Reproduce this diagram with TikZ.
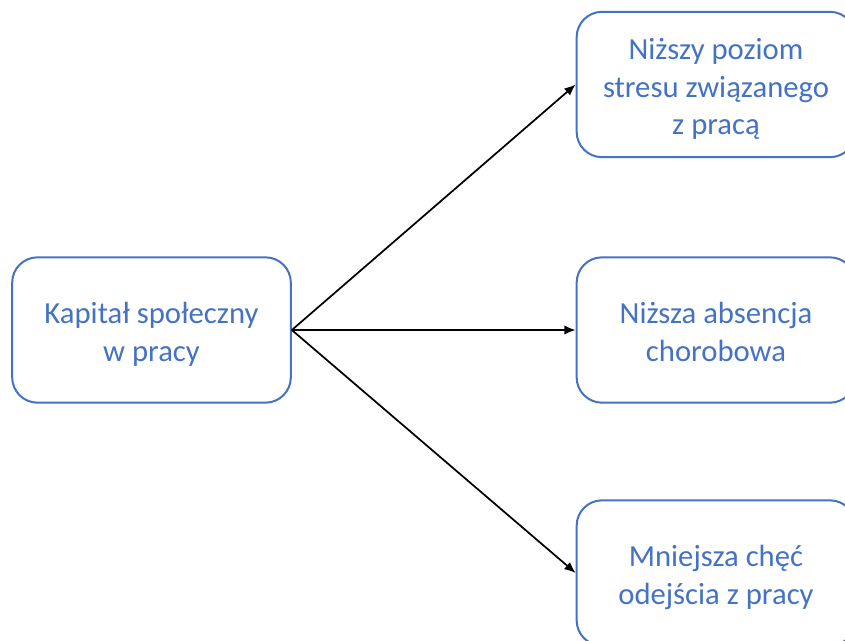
\documentclass[tikz,border=0pt]{standalone}
\usepackage{fontspec}
\setmainfont{Carlito}
\usetikzlibrary{arrows.meta}
\definecolor{boxblue}{HTML}{4472C4}
\newcommand{\boxtext}[1]{\raisebox{-10pt}[0pt][0pt]{\begin{tabular}{@{}c@{}}#1\end{tabular}}}
\tikzset{
  box/.style={draw=boxblue, line width=1.5pt, rounded corners=19pt, minimum width=209pt, minimum height=109pt,
    text=boxblue, align=center, font=\fontsize{23pt}{28pt}\selectfont, inner sep=0pt, fill=white},
  conn/.style={draw=black, line width=1.3pt, -{Latex[length=8.5pt,width=7pt]}}
}
\begin{document}
\begin{tikzpicture}[x=0.75pt,y=-0.75pt]
\useasboundingbox (0,0) rectangle (845,640);
\clip (0,0) rectangle (845,640);
\fill[white] (0,0) rectangle (845,640);
\node[box] (src) at (151.5,330) {\boxtext{Kapitał społeczny\\w pracy}};
\node[box] (t1) at (716,84.5) {\boxtext{Niższy poziom\\stresu związanego\\z pracą}};
\node[box] (t2) at (716,330) {\boxtext{Niższa absencja\\chorobowa}};
\node[box] (t3) at (716,573) {\boxtext{Mniejsza chęć\\odejścia z pracy}};
\draw[conn] (src.east) -- (t1.west);
\draw[conn] (src.east) -- (t2.west);
\draw[conn] (src.east) -- (t3.west);
\end{tikzpicture}
\end{document}
